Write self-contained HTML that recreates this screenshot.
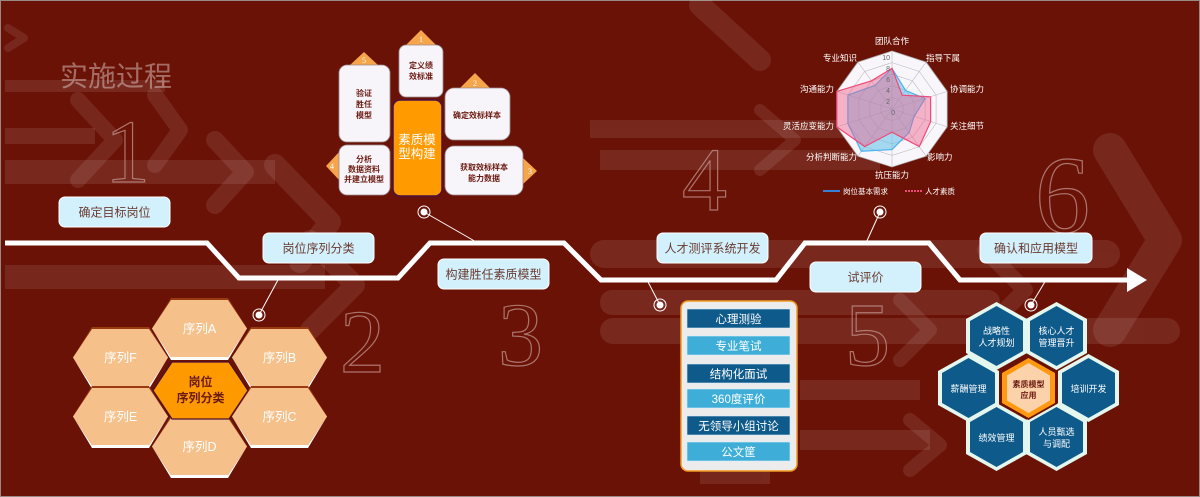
<!DOCTYPE html>
<html><head><meta charset="utf-8"><style>
html,body{margin:0;padding:0;background:#6b1206;}
svg{display:block;font-family:"Liberation Sans","Noto Sans CJK SC",sans-serif;}
</style></head><body>
<svg width="1200" height="497" viewBox="0 0 1200 497" xmlns="http://www.w3.org/2000/svg">
<rect width="1200" height="497" fill="#6b1206"/>
<rect x="0.5" y="0.5" width="1199" height="496" fill="none" stroke="#9a8a85" stroke-width="1"/>
<!-- background arrows -->
<g fill="#ffffff" opacity="0.09">
<rect x="5" y="80" width="160" height="12"/>
<rect x="5" y="128" width="90" height="16"/>
<rect x="5" y="160" width="270" height="24"/>
<rect x="5" y="265" width="320" height="24"/>
<rect x="590" y="120" width="300" height="18"/>
<rect x="600" y="150" width="280" height="20"/>
<rect x="590" y="240" width="530" height="28" rx="14"/>
<rect x="600" y="290" width="400" height="25" rx="12"/>
<rect x="600" y="318" width="580" height="26" rx="13"/>
<rect x="800" y="380" width="120" height="20"/>
<rect x="800" y="430" width="130" height="20"/>
<rect x="700" y="470" width="70" height="14"/>
</g>
<g fill="none" stroke="#ffffff" stroke-opacity="0.09" stroke-linecap="round" stroke-linejoin="round">
<polyline points="8,28 24,38 8,48" stroke-width="8"/>
<polyline points="78,100 115,140 78,180" stroke-width="16"/>
<polyline points="155,95 180,130 155,165" stroke-width="16"/>
<polyline points="215,140 245,172 215,205" stroke-width="18"/>
<polyline points="275,165 330,222 300,262" stroke-width="22"/>
<polyline points="310,240 355,285 310,330" stroke-width="20"/>
<polyline points="1110,150 1165,240 1110,330" stroke-width="34"/>
<polyline points="985,250 1025,290 985,330" stroke-width="16"/>
<polyline points="900,300 930,330 900,360" stroke-width="14"/>
<polyline points="910,420 940,445 910,470" stroke-width="14"/>
<polyline points="760,110 795,140 760,170" stroke-width="12"/>
<polyline points="700,5 760,60" stroke-width="22"/>
</g>
<!-- big outlined numbers -->
<g font-family="Liberation Serif,serif" fill="none" stroke="#c09590" stroke-width="1.2" opacity="0.75">
<text x="105" y="182" font-size="90">1</text>
<text x="340" y="372" font-size="90">2</text>
<text x="498" y="365" font-size="90">3</text>
<text x="682" y="210" font-size="90">4</text>
<text x="845" y="365" font-size="90">5</text>
<text x="1035" y="232" font-size="110">6</text>
</g>
<text x="60" y="86" font-size="28" fill="#ffffff" fill-opacity="0.38" font-family="Liberation Sans,Noto Sans CJK SC,sans-serif">实施过程</text>

<!-- path -->
<polyline points="5,243 207,243 239,278 398,278 430,243 564,243 601,280 776,280 805,243 929,243 960,280 1130,280" fill="none" stroke="#ffffff" stroke-width="5" stroke-linejoin="miter"/>
<polygon points="1127,268 1147,280 1127,292" fill="#ffffff"/>

<!-- connectors -->
<g stroke="#ffffff" stroke-width="1" fill="none">
<line x1="424" y1="212" x2="478" y2="243"/>
<line x1="279" y1="278" x2="259" y2="315"/>
<line x1="647" y1="280" x2="660" y2="305"/>
<line x1="880" y1="212" x2="866" y2="243"/>
<line x1="1046" y1="280" x2="1031" y2="305"/>
</g>
<g>
<circle cx="424" cy="212" r="6" fill="none" stroke="#ffffff" stroke-width="1"/><circle cx="424" cy="212" r="3.5" fill="#fff"/>
<circle cx="259" cy="315" r="6" fill="none" stroke="#ffffff" stroke-width="1"/><circle cx="259" cy="315" r="3.5" fill="#fff"/>
<circle cx="660" cy="305" r="6" fill="none" stroke="#ffffff" stroke-width="1"/><circle cx="660" cy="305" r="3.5" fill="#fff"/>
<circle cx="880" cy="212" r="6" fill="none" stroke="#ffffff" stroke-width="1"/><circle cx="880" cy="212" r="3.5" fill="#fff"/>
<circle cx="1031" cy="305" r="6" fill="none" stroke="#ffffff" stroke-width="1"/><circle cx="1031" cy="305" r="3.5" fill="#fff"/>
</g>

<!-- step labels -->
<g font-size="12" fill="#6b3a30" text-anchor="middle">
<rect x="59" y="197" width="111" height="30" rx="6" fill="#d3f1fc" stroke="#fff"/><text x="114.5" y="216.5">确定目标岗位</text>
<rect x="263" y="233" width="111" height="30" rx="6" fill="#d3f1fc" stroke="#fff"/><text x="318.5" y="252.5">岗位序列分类</text>
<rect x="438" y="259" width="111" height="30" rx="6" fill="#d3f1fc" stroke="#fff"/><text x="493.5" y="278.5">构建胜任素质模型</text>
<rect x="657" y="233" width="111" height="30" rx="6" fill="#d3f1fc" stroke="#fff"/><text x="712.5" y="252.5">人才测评系统开发</text>
<rect x="810" y="262" width="111" height="30" rx="6" fill="#d3f1fc" stroke="#fff"/><text x="865.5" y="281.5">试评价</text>
<rect x="980" y="233" width="112" height="30" rx="6" fill="#d3f1fc" stroke="#fff"/><text x="1036" y="252.5">确认和应用模型</text>
</g>

<!-- competency model -->
<g>
<polygon points="421,30 436,45 406,45" fill="#f7a54a"/>
<polygon points="364,52 378,65 350,65" fill="#f7a54a"/>
<polygon points="475,73 490,88 460,88" fill="#f7a54a"/>
<polygon points="522,157 537,171 522,185" fill="#f7a54a"/>
<polygon points="340,151 326,166 340,181" fill="#f7a54a"/>
<g font-family="Liberation Serif,serif" font-size="8" fill="#fff" text-anchor="middle">
<text x="421" y="42">1</text><text x="364" y="63">5</text><text x="475" y="86">2</text><text x="530" y="174">3</text><text x="332" y="169">4</text>
</g>
<g fill="#f8f5fa" stroke="#9a8a90" stroke-width="0.8">
<rect x="399" y="45" width="44" height="52" rx="7"/>
<rect x="339" y="65" width="51" height="77" rx="8"/>
<rect x="445" y="88" width="65" height="52" rx="9"/>
<rect x="445" y="146" width="78" height="49" rx="9"/>
<rect x="339" y="145" width="51" height="50" rx="8"/>
</g>
<rect x="393" y="100" width="49" height="96" rx="7" fill="#ff9a00" stroke="#4a1040" stroke-width="1.5"/>
<g font-size="8" font-weight="bold" fill="#6b1a10" text-anchor="middle">
<text x="421" y="68">定义绩</text><text x="421" y="79">效标准</text>
<text x="364" y="96">验证</text><text x="364" y="107">胜任</text><text x="364" y="118">模型</text>
<text x="477" y="118">确定效标样本</text>
<text x="484" y="170">获取效标样本</text><text x="484" y="181">能力数据</text>
<text x="364" y="162">分析</text><text x="364" y="172">数据资料</text><text x="364" y="182">并建立模型</text>
</g>
<g font-size="12.5" fill="#fff" text-anchor="middle">
<text x="417" y="144">素质模</text><text x="417" y="158">型构建</text>
</g>
</g>

<!-- radar chart -->
<g>
<polygon points="892,51 926.1,62.1 947.2,91.4 947.2,126.9 926.1,156.2 892,167 857.9,156.2 836.8,126.9 836.8,91.4 857.9,62.1" fill="#f8f6fb" stroke="#aaa" stroke-width="0.8"/>
<g fill="none" stroke="#bbb" stroke-width="0.6">
<polygon points="892,62.6 919.3,71.5 936.1,95 936.1,123.3 919.3,146.8 892,155.4 864.7,146.8 847.9,123.3 847.9,95 864.7,71.5"/>
<polygon points="892,74.2 912.5,80.9 925.1,98.5 925.1,119.8 912.5,137.3 892,143.8 871.5,137.3 858.9,119.8 858.9,98.5 871.5,80.9"/>
<polygon points="892,85.8 905.6,90.2 914.1,102.1 914.1,116.2 905.6,128 892,132.2 878.4,128 869.9,116.2 869.9,102.1 878.4,90.2"/>
<polygon points="892,97.4 898.8,99.6 903,105.4 903,112.6 898.8,118.4 892,120.6 885.2,118.4 881,112.6 881,105.4 885.2,99.6"/>
<line x1="892" y1="109" x2="892" y2="51"/><line x1="892" y1="109" x2="926.1" y2="62.1"/><line x1="892" y1="109" x2="947.2" y2="91.4"/><line x1="892" y1="109" x2="947.2" y2="126.9"/><line x1="892" y1="109" x2="926.1" y2="156.2"/><line x1="892" y1="109" x2="892" y2="167"/><line x1="892" y1="109" x2="857.9" y2="156.2"/><line x1="892" y1="109" x2="836.8" y2="126.9"/><line x1="892" y1="109" x2="836.8" y2="91.4"/><line x1="892" y1="109" x2="857.9" y2="62.1"/>
</g>
<polygon points="892,68.4 905.6,90.5 925.1,98.5 914.1,116.5 909.1,132.5 892,149.6 861.3,151.2 847.9,123.6 847.9,95 874.9,85.5" fill="#5fbfe8" fill-opacity="0.55" stroke="#4ab0f0" stroke-width="1.2"/>
<polygon points="892,68.4 902.2,95.2 930.6,96.8 930.6,121.8 919.3,146.5 892,132.2 864.7,146.5 836.8,126.9 836.8,91.4 871.5,80.8" fill="#f0608a" fill-opacity="0.45" stroke="#ee4a78" stroke-width="1.2"/>
<g font-size="7" fill="#666" text-anchor="end"><text x="890" y="60">10</text><text x="890" y="71">8</text><text x="890" y="82">6</text><text x="890" y="93">4</text><text x="890" y="104">2</text><text x="895" y="115">0</text></g>
<g font-size="8.5" fill="#ffffff">
<text x="892" y="44" text-anchor="middle">团队合作</text>
<text x="926" y="61">指导下属</text>
<text x="950" y="92">协调能力</text>
<text x="950" y="129">关注细节</text>
<text x="927" y="160">影响力</text>
<text x="892" y="178" text-anchor="middle">抗压能力</text>
<text x="857" y="160" text-anchor="end">分析判断能力</text>
<text x="834" y="129" text-anchor="end">灵活应变能力</text>
<text x="834" y="92" text-anchor="end">沟通能力</text>
<text x="857" y="61" text-anchor="end">专业知识</text>
</g>
<line x1="823" y1="191" x2="840" y2="191" stroke="#3a80d0" stroke-width="2"/>
<text x="843" y="194" font-size="7.5" fill="#fff">岗位基本需求</text>
<line x1="905" y1="191" x2="922" y2="191" stroke="#ee4a78" stroke-width="2" stroke-dasharray="2,1"/>
<text x="925" y="194" font-size="7.5" fill="#fff">人才素质</text>
</g>

<!-- test box -->
<g>
<rect x="681" y="301" width="116" height="170" rx="7" fill="#ececec" stroke="#f39a20" stroke-width="1.5"/>
<g stroke="#d8eef8" stroke-width="0.6">
<rect x="687" y="309" width="103" height="19" fill="#0e5a8a"/>
<rect x="687" y="336" width="103" height="19" fill="#3eaed8"/>
<rect x="687" y="364" width="103" height="19" fill="#0e5a8a"/>
<rect x="687" y="389" width="103" height="19" fill="#3eaed8"/>
<rect x="687" y="416" width="103" height="19" fill="#0e5a8a"/>
<rect x="687" y="442" width="103" height="19" fill="#3eaed8"/>
</g>
<g font-size="11.5" fill="#ffffff" text-anchor="middle">
<text x="738.5" y="323">心理测验</text>
<text x="738.5" y="350">专业笔试</text>
<text x="738.5" y="378">结构化面试</text>
<text x="738.5" y="403">360度评价</text>
<text x="738.5" y="430">无领导小组讨论</text>
<text x="738.5" y="456">公文筐</text>
</g>
</g>

<!-- left hexes -->
<g>
<g transform="translate(152,300)"><polygon points="0,28.5 19,3 76,3 95,28.5 76,60 19,60" fill="#fff"/><polygon points="0,28.5 19,-2 76,-2 95,28.5 76,57 19,57" fill="#9a3a10"/><polygon points="0,28.5 19,0 76,0 95,28.5 76,57 19,57" fill="#f5c08a"/><text x="47.5" y="33" font-size="12.5" fill="#fff" text-anchor="middle">序列A</text></g>
<g transform="translate(73,329)"><polygon points="0,28.5 19,3 76,3 95,28.5 76,60 19,60" fill="#fff"/><polygon points="0,28.5 19,-2 76,-2 95,28.5 76,57 19,57" fill="#9a3a10"/><polygon points="0,28.5 19,0 76,0 95,28.5 76,57 19,57" fill="#f5c08a"/><text x="47.5" y="33" font-size="12.5" fill="#fff" text-anchor="middle">序列F</text></g>
<g transform="translate(232,329)"><polygon points="0,28.5 19,3 76,3 95,28.5 76,60 19,60" fill="#fff"/><polygon points="0,28.5 19,-2 76,-2 95,28.5 76,57 19,57" fill="#9a3a10"/><polygon points="0,28.5 19,0 76,0 95,28.5 76,57 19,57" fill="#f5c08a"/><text x="47.5" y="33" font-size="12.5" fill="#fff" text-anchor="middle">序列B</text></g>
<g transform="translate(73,388)"><polygon points="0,28.5 19,3 76,3 95,28.5 76,60 19,60" fill="#fff"/><polygon points="0,28.5 19,-2 76,-2 95,28.5 76,57 19,57" fill="#9a3a10"/><polygon points="0,28.5 19,0 76,0 95,28.5 76,57 19,57" fill="#f5c08a"/><text x="47.5" y="33" font-size="12.5" fill="#fff" text-anchor="middle">序列E</text></g>
<g transform="translate(232,388)"><polygon points="0,28.5 19,3 76,3 95,28.5 76,60 19,60" fill="#fff"/><polygon points="0,28.5 19,-2 76,-2 95,28.5 76,57 19,57" fill="#9a3a10"/><polygon points="0,28.5 19,0 76,0 95,28.5 76,57 19,57" fill="#f5c08a"/><text x="47.5" y="33" font-size="12.5" fill="#fff" text-anchor="middle">序列C</text></g>
<g transform="translate(152,418)"><polygon points="0,28.5 19,3 76,3 95,28.5 76,60 19,60" fill="#fff"/><polygon points="0,28.5 19,-2 76,-2 95,28.5 76,57 19,57" fill="#9a3a10"/><polygon points="0,28.5 19,0 76,0 95,28.5 76,57 19,57" fill="#f5c08a"/><text x="47.5" y="33" font-size="12.5" fill="#fff" text-anchor="middle">序列D</text></g>
<g transform="translate(153,362)"><polygon points="0,28.5 19,0 76,0 95,28.5 76,57 19,57" fill="#ff9900" stroke="#4a1030" stroke-width="1.2"/><text x="47.5" y="24" font-size="12" font-weight="bold" fill="#6b1a10" text-anchor="middle">岗位</text><text x="47.5" y="40" font-size="12" font-weight="bold" fill="#6b1a10" text-anchor="middle">序列分类</text></g>
</g>

<!-- right hexes -->
<g font-size="9" fill="#fff" text-anchor="middle">
<g transform="translate(970,306)"><polygon points="26.5,-4 57,13 57,47 26.5,64 -4,47 -4,13" fill="#e4f7ee"/><polygon points="26.5,0 53,15 53,45 26.5,60 0,45 0,15" fill="#0e5a8a"/><text x="26.5" y="28">战略性</text><text x="26.5" y="40">人才规划</text></g>
<g transform="translate(1030,306)"><polygon points="26.5,-4 57,13 57,47 26.5,64 -4,47 -4,13" fill="#e4f7ee"/><polygon points="26.5,0 53,15 53,45 26.5,60 0,45 0,15" fill="#0e5a8a"/><text x="26.5" y="28">核心人才</text><text x="26.5" y="40">管理晋升</text></g>
<g transform="translate(942,358)"><polygon points="26.5,-4 57,13 57,47 26.5,64 -4,47 -4,13" fill="#e4f7ee"/><polygon points="26.5,0 53,15 53,45 26.5,60 0,45 0,15" fill="#0e5a8a"/><text x="26.5" y="34">薪酬管理</text></g>
<g transform="translate(1062,358)"><polygon points="26.5,-4 57,13 57,47 26.5,64 -4,47 -4,13" fill="#e4f7ee"/><polygon points="26.5,0 53,15 53,45 26.5,60 0,45 0,15" fill="#0e5a8a"/><text x="26.5" y="34">培训开发</text></g>
<g transform="translate(970,407)"><polygon points="26.5,-4 57,13 57,47 26.5,64 -4,47 -4,13" fill="#e4f7ee"/><polygon points="26.5,0 53,15 53,45 26.5,60 0,45 0,15" fill="#0e5a8a"/><text x="26.5" y="34">绩效管理</text></g>
<g transform="translate(1030,407)"><polygon points="26.5,-4 57,13 57,47 26.5,64 -4,47 -4,13" fill="#e4f7ee"/><polygon points="26.5,0 53,15 53,45 26.5,60 0,45 0,15" fill="#0e5a8a"/><text x="26.5" y="28">人员甄选</text><text x="26.5" y="40">与调配</text></g>
<g transform="translate(1002,358)"><polygon points="26.5,-2 55,14 55,46 26.5,62 -2,46 -2,14" fill="#6b1206"/><polygon points="26.5,0 53,15 53,45 26.5,60 0,45 0,15" fill="#ff9a10"/><polygon points="26.5,5 48,17.5 48,42.5 26.5,55 5,42.5 5,17.5" fill="#fcd2aa"/><text x="26.5" y="29" font-size="8" font-weight="bold" fill="#6b1a10">素质模型</text><text x="26.5" y="40" font-size="8" font-weight="bold" fill="#6b1a10">应用</text></g>
</g>
</svg>
</body></html>
